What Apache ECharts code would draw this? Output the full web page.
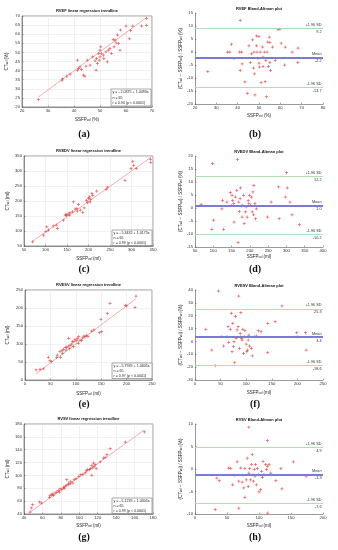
<!DOCTYPE html>
<html><head><meta charset="utf-8">
<script src="https://cdn.jsdelivr.net/npm/echarts@6/dist/echarts.min.js"></script>
<style>html,body{margin:0;padding:0;background:#fff}#c{width:338px;height:550px}</style>
</head><body><div id="c"></div>
<script>
// ---- DATA ----
const titles = ['RVEF linear regression trendline','RVEF Bland-Altman plot','RVEDV linear regression trendline','RVEDV Bland-Altman plot','RVESV linear regression trendline','RVESV Bland-Altman plot','RVSV linear regression trendline','RVSV Bland-Altman plot'];
const panelLabels = ['(a)','(b)','(c)','(d)','(e)','(f)','(g)','(h)'];
const units = ['%','ml','ml','ml'];
const regIntercept = [-2.0875, -5.3432, -5.7939, -5.1239];
const regSlope = [1.0493, 1.0175, 1.0605, 1.0305];
const regN = [65, 65, 65, 65];
const regR = [0.94, 0.99, 0.97, 0.99];
const baUpper = [9.2, 12.2, 25.3, 4.9];
const baMean = [-2.2, 1.0, 3.4, -1.3];
const baLower = [-13.7, -10.2, -18.6, -7.6];

const rvefReg = [[26.3,24.0],[35.4,34.7],[35.6,35.4],[37.2,36.9],[38.5,38.0],[41.3,45.7],[41.3,40.2],[41.8,41.1],[42.3,42.1],[42.9,40.6],[44.2,36.9],[43.6,37.5],[44.6,42.4],[45.1,45.7],[46.2,43.0],[47.2,47.6],[48.1,45.4],[48.5,40.2],[48.7,46.7],[49.0,43.9],[49.5,49.4],[49.7,45.7],[50.0,47.6],[50.0,51.2],[50.3,53.1],[50.6,49.4],[51.3,48.5],[51.5,46.7],[52.3,50.3],[52.8,44.8],[53.2,51.2],[53.8,52.2],[54.4,49.4],[55.1,57.1],[55.4,53.1],[55.8,56.8],[56.2,55.3],[56.7,59.5],[57.2,54.9],[57.7,51.2],[57.9,62.3],[60.0,64.5],[61.3,57.5],[61.8,61.9],[62.6,64.5],[66.0,64.5],[67.9,68.7],[67.9,64.9]];
const rvefBA = [[26.0,-7.5],[37.1,3.0],[35.2,0],[36.3,0],[38.3,-2.5],[41.2,12.2],[40.9,0],[41.8,0],[42.1,-4.6],[41.2,-7.1],[43.4,-11.5],[44.5,-15.9],[45.3,2.4],[45.9,-4.0],[46.5,-0.7],[46.9,4.7],[47.6,0],[47.5,-6.2],[47.8,-8.4],[48.1,-16.5],[48.8,6.2],[48.8,2.4],[49.1,0],[49.4,-2.4],[50.0,6.0],[50.0,-4.3],[50.3,-5.8],[50.6,0],[51.0,-11.8],[51.6,1.9],[51.9,-2.0],[51.9,-5.6],[52.5,0],[52.9,-11.4],[53.2,-3.3],[53.5,-17.2],[53.8,0],[54.1,3.8],[54.4,-5.6],[54.8,5.7],[55.1,3.7],[55.4,-7.1],[55.1,-4.0],[56.3,1.9],[57.6,-3.3],[60.4,3.4],[62.0,-5.0],[59.8,8.8],[58.9,8.6],[62.3,1.9],[65.5,0],[68.3,1.5],[68.2,-4.0]];
const rvedvReg = [[70,64],[95,86],[101,98],[103,114],[107,103],[118,117],[125,120],[128,109],[142,136],[146,153],[149,151],[153,157],[148,155],[156,153],[157,162],[163,164],[165,197],[169,173],[173,175],[174,166],[177,188],[181,170],[187,162],[190,177],[195,202],[198,195],[200,208],[202,214],[204,197],[205,206],[208,225],[210,219],[219,233],[241,239],[244,246],[285,269],[299,308],[303,332],[305,319],[311,308],[344,339],[345,328]];
const rvedvBA = [[66.6,1.3],[97.9,17.1],[100.6,-4.7],[96.0,-8.2],[128.3,-8.2],[123.7,-0.3],[125.5,2.9],[137.5,2.3],[146.7,5.9],[149.4,1.0],[151.3,4.9],[153.1,2.9],[155.9,1.7],[156.8,-5.4],[160.5,4.2],[164.2,6.8],[166.0,18.7],[167.9,-13.3],[169.7,2.3],[171.5,-1.3],[173.4,3.6],[174.3,7.7],[177.1,0.8],[178.9,-3.5],[180.8,1.0],[182.6,4.9],[184.4,-6.0],[188.1,-1.5],[190.0,0.4],[192.7,-3.5],[195.5,2.9],[197.3,1.7],[199.2,4.9],[201.9,1.0],[204.7,4.2],[206.5,-1.5],[208.4,6.2],[210.2,-2.6],[211.1,8.7],[213.9,1.7],[215.7,-4.1],[217.6,-0.3],[248.0,-3.5],[258.1,2.3],[278.4,8.1],[280.2,-4.1],[300.5,13.6],[302.3,7.7],[296.8,4.2],[309.7,2.3],[315.2,-2.6],[335.5,-6.4]];
const rvesvReg = [[21.7,27.8],[29.5,29.6],[36.1,30.6],[49.2,53.7],[52.5,50.9],[45.9,63.0],[62.3,63.0],[63.6,69.4],[68.9,78.7],[70.2,63.0],[72.8,81.5],[74.1,74.1],[75.5,85.2],[79.4,90.7],[80.7,83.3],[82.0,90.7],[85.3,94.4],[86.0,115.7],[87.3,87.0],[88.6,96.3],[91.9,100.0],[93.8,106.5],[95.1,92.6],[96.5,106.5],[98.4,113.0],[101.7,109.3],[103.0,115.7],[105.0,101.9],[105.6,120.4],[108.3,111.1],[111.5,109.3],[113.5,116.7],[116.1,122.2],[118.1,120.4],[121.4,124.1],[124.0,120.4],[131.2,136.1],[135.8,138.9],[146.3,131.5],[150.9,134.3],[149.6,168.5],[162.1,185.2],[167.3,213.0],[200.1,205.6],[197.5,207.4],[216.5,201.9],[218.5,233.3]];
const rvesvBA = [[21.1,9.4],[32.9,-6.7],[39.5,-18.9],[46.1,39.2],[51.3,3.7],[55.9,-3.6],[62.5,3.7],[64.5,11.5],[65.8,-0.7],[69.1,9.4],[71.1,21.9],[72.4,-8.0],[73.7,14.1],[75.0,-4.1],[76.3,-0.2],[77.6,-16.5],[78.9,19.3],[80.3,2.4],[82.2,8.9],[84.2,11.5],[85.5,35.3],[86.8,-5.4],[88.2,6.3],[88.8,3.7],[89.5,22.4],[90.8,2.4],[92.1,1.1],[93.4,9.4],[94.7,-9.3],[96.1,3.7],[97.4,8.4],[100.0,-2.0],[101.3,-8.0],[102.6,-6.7],[103.9,1.1],[105.3,5.0],[106.6,-3.6],[110.5,-5.4],[111.8,-11.3],[115.8,3.7],[119.7,4.2],[123.7,8.4],[128.9,7.6],[142.1,14.1],[142.1,-8.7],[156.6,15.4],[169.7,27.6],[198.7,6.8],[200.7,3.7],[215.8,6.8],[217.1,-6.7]];
const rvsvReg = [[46.5,43.1],[48.0,49.4],[49.4,54.5],[56.7,58.7],[58.9,57.1],[67.6,66.0],[68.3,69.0],[70.1,70.1],[71.2,71.1],[71.9,69.0],[73.7,72.7],[75.5,74.2],[77.4,76.3],[78.4,74.2],[79.2,79.4],[81.0,77.9],[82.8,81.5],[83.5,79.4],[84.6,82.5],[85.7,84.6],[86.4,93.4],[87.9,85.6],[88.6,88.2],[90.1,86.7],[90.8,90.8],[93.0,88.2],[94.4,93.4],[96.6,95.0],[99.5,98.6],[101.7,101.2],[103.8,101.2],[106.4,103.8],[107.5,107.4],[108.9,109.0],[111.1,109.0],[112.5,110.5],[113.6,115.7],[114.7,111.6],[115.4,119.3],[116.2,114.2],[117.3,116.8],[118.3,110.5],[113.6,100.2],[122.7,120.9],[126.3,127.1],[128.1,128.2],[130.0,132.3],[133.6,141.6],[149.9,152.0],[170.6,167.6]];
const rvsvBA = [[31.6,-9.0],[84.2,9.3],[113.2,6.3],[113.7,-9.8],[68.4,-8.7],[37.9,-2.6],[34.2,-2.0],[52.6,0.2],[55.8,0.1],[58.9,-3.5],[62.1,-1.4],[65.8,1.6],[68.4,-2.7],[71.1,0.2],[73.7,-2.9],[74.7,-1.4],[76.3,-4.2],[77.9,0.1],[77.9,-6.3],[80.0,-2.4],[81.6,2.4],[83.2,-3.9],[84.2,-0.9],[85.3,0.1],[86.8,-2.4],[88.4,1.0],[89.5,3.2],[90.5,-1.3],[91.6,-2.7],[92.6,-0.1],[93.7,-1.6],[94.7,1.0],[95.8,-3.5],[97.4,0.1],[98.9,-1.3],[100.0,-5.1],[102.6,-4.6],[104.2,-0.5],[105.3,-1.9],[106.3,1.7],[107.9,-1.3],[110.5,1.0],[111.6,-0.1],[113.2,0.6],[115.8,1.0],[118.4,-0.9],[126.3,-2.6],[134.2,0.1],[135.8,-4.4],[153.7,1.6],[173.7,-1.6]];
// axis ranges [min,max,interval]
const regXRange = [[20,70,10],[50,350,50],[0,250,50],[40,180,20]];
const regYRange = [[20,70,5],[50,350,50],[0,250,50],[40,180,20]];
const baXRange = [[20,80,10],[50,400,50],[0,250,50],[0,200,50]];
const baYRange = [[-20,15,5],[-15,20,5],[-30,40,10],[-10,10,5]];
const regData = [rvefReg, rvedvReg, rvesvReg, rvsvReg];
const baData = [rvefBA, rvedvBA, rvesvBA, rvsvBA];

// ---- LAYOUT ----
const FONT = 'Liberation Sans';
const regGrids = [[22,16,130,91],[24,156,129,90],[25,290,127,90],[24,424,129,90]];
const baGrids = [[195,13,128,91],[195,156,128,91],[195,290,128,90],[195,424,128,90]];
const regXGap = [10,10,11,9], regYGap = [13,14,15,14];
const baXGap = [9,7,10,9], baYGap = [8,10,11,11];
const boxes = [[111,89,40,17],[112,230,40,15.5],[112,363,40,15.5],[112,498,40,15.5]];
const labelY = [134,269,404,537];

const plus = 'path://M-1,-4H1V-1H4V1H1V4H-1V1H-4V-1H-1Z';
const grids = [], xAxes = [], yAxes = [], series = [], graphics = [];
const axCol = '#555';
function mkAxis(i, r, name, gap, isY, split){
  return {gridIndex:i, type:'value', min:r[0], max:r[1], interval:r[2],
    name:name, nameLocation:'middle', nameGap:gap, nameRotate: isY?90:0,
    nameTextStyle:{fontSize:4.5, color:'#222', fontFamily:FONT,
      rich:{s:{fontSize:3, color:'#222', fontFamily:FONT, padding:[2,0,0,0]}}},
    axisLine:{show:true, onZero:false, lineStyle:{color:axCol, width:0.6}},
    axisTick:{show:true, inside:true, length:1.5, lineStyle:{color:axCol, width:0.5}},
    axisLabel:{fontSize:4.2, color:'#333', margin:2, fontFamily:FONT},
    splitLine:{show:split, lineStyle:{color:'#e2e2e2', width:0.5}}};
}
for(let k=0;k<4;k++){
  // regression panel
  let gi = grids.length;
  const g = regGrids[k];
  grids.push({left:g[0], top:g[1], width:g[2], height:g[3], show:true, borderColor:axCol, borderWidth:0.6, containLabel:false});
  xAxes.push(mkAxis(gi, regXRange[k], '{n|SSFP}{s|vol} ('+units[k]+')', regXGap[k], false, true));
  yAxes.push(mkAxis(gi, regYRange[k], '{n|CT}{s|vol} ('+units[k]+')', regYGap[k], true, true));
  xAxes[gi].nameTextStyle.rich.n = {fontSize:4.5,color:'#222',fontFamily:FONT};
  yAxes[gi].nameTextStyle.rich.n = {fontSize:4.5,color:'#222',fontFamily:FONT};
  const d = regData[k];
  const xs = d.map(p=>p[0]);
  const x0 = Math.min(...xs), x1 = Math.max(...xs);
  series.push({type:'line', xAxisIndex:gi, yAxisIndex:gi, symbol:'none', silent:true,
    data:[[x0, regIntercept[k]+regSlope[k]*x0],[x1, regIntercept[k]+regSlope[k]*x1]],
    lineStyle:{color:'#f2a3a3', width:0.9}, z:2});
  series.push({type:'scatter', xAxisIndex:gi, yAxisIndex:gi, data:d, symbol:plus, symbolSize:3,
    itemStyle:{color:'#e23b3b'}, z:3});
  graphics.push({type:'text', x:g[0]+g[2]/2, y:g[1]-5, z:100, style:{text:titles[2*k], fill:'#111', font:'bold 4px "'+FONT+'"', align:'center', verticalAlign:'middle'}});
  const b = boxes[k];
  graphics.push({type:'rect', z:100, shape:{x:b[0], y:b[1], width:b[2], height:b[3]}, style:{fill:'#fff', stroke:'#555', lineWidth:0.5}});
  const sign = regIntercept[k] < 0 ? '- ' + Math.abs(regIntercept[k]).toFixed(4) : regIntercept[k].toFixed(4);
  const txt = 'y = ' + sign + ' + ' + regSlope[k].toFixed(4) + 'x\nn = ' + regN[k] + '\nr = ' + regR[k].toFixed(2) + ' (p < 0.0001)';
  graphics.push({type:'text', z:101, x:b[0]+1.5, y:b[1]+b[3]/2, style:{text:txt, fill:'#222', font:'3.6px "'+FONT+'"', lineHeight:b[3]/3.2, align:'left', verticalAlign:'middle'}});
  graphics.push({type:'text', z:100, x:84, y:labelY[k], style:{text:panelLabels[2*k], fill:'#111', font:'bold 10px "Liberation Serif"', align:'center', verticalAlign:'middle'}});

  // Bland-Altman panel
  gi = grids.length;
  const h = baGrids[k];
  grids.push({left:h[0], top:h[1], width:h[2], height:h[3], show:false, containLabel:false});
  xAxes.push(mkAxis(gi, baXRange[k], '{n|SSFP}{s|vol} ('+units[k]+')', baXGap[k], false, false));
  yAxes.push(mkAxis(gi, baYRange[k], '({n|CT}{s|vol} \u2212 {n|SSFP}{s|vol}) / {n|SSFP}{s|vol} (%)', baYGap[k], true, false));
  xAxes[gi].nameTextStyle.rich.n = {fontSize:4.5,color:'#222',fontFamily:FONT};
  yAxes[gi].nameTextStyle.rich.n = {fontSize:4.5,color:'#222',fontFamily:FONT};
  const lab = (t, pos)=>({show:true, formatter:t, position:pos, fontSize:3.8, color:'#333', fontFamily:FONT, distance:1.5});
  const green = {color:'#a9dba9', width:0.7, type:'solid'};
  const blue = {color:'#7a7ad8', width:1.8, type:'solid'};
  series.push({type:'scatter', xAxisIndex:gi, yAxisIndex:gi, data:baData[k], symbol:plus, symbolSize:3,
    itemStyle:{color:'#e23b3b'}, z:3,
    markLine:{silent:true, symbol:'none', animation:false,
      data:[
        {yAxis:baUpper[k], lineStyle:green, label:lab('+1.96 SD','insideEndTop')},
        {yAxis:baUpper[k], lineStyle:green, label:lab(baUpper[k].toFixed(1),'insideEndBottom')},
        {yAxis:baMean[k], lineStyle:blue, label:lab('Mean','insideEndTop')},
        {yAxis:baMean[k], lineStyle:blue, label:lab(baMean[k].toFixed(1),'insideEndBottom')},
        {yAxis:baLower[k], lineStyle:green, label:lab('-1.96 SD','insideEndTop')},
        {yAxis:baLower[k], lineStyle:green, label:lab(baLower[k].toFixed(1),'insideEndBottom')}
      ]}});
  graphics.push({type:'text', x:h[0]+h[2]/2, y:h[1]-4.5, z:100, style:{text:titles[2*k+1], fill:'#111', font:'bold 4px "'+FONT+'"', align:'center', verticalAlign:'middle'}});
  graphics.push({type:'text', z:100, x:255, y:labelY[k], style:{text:panelLabels[2*k+1], fill:'#111', font:'bold 10px "Liberation Serif"', align:'center', verticalAlign:'middle'}});
}

const chart = echarts.init(document.getElementById('c'), null, {renderer:'canvas'});
chart.setOption({
  animation:false,
  backgroundColor:'#fff',
  textStyle:{fontFamily:FONT},
  grid:grids, xAxis:xAxes, yAxis:yAxes, series:series, graphic:graphics
});
</script></body></html>
